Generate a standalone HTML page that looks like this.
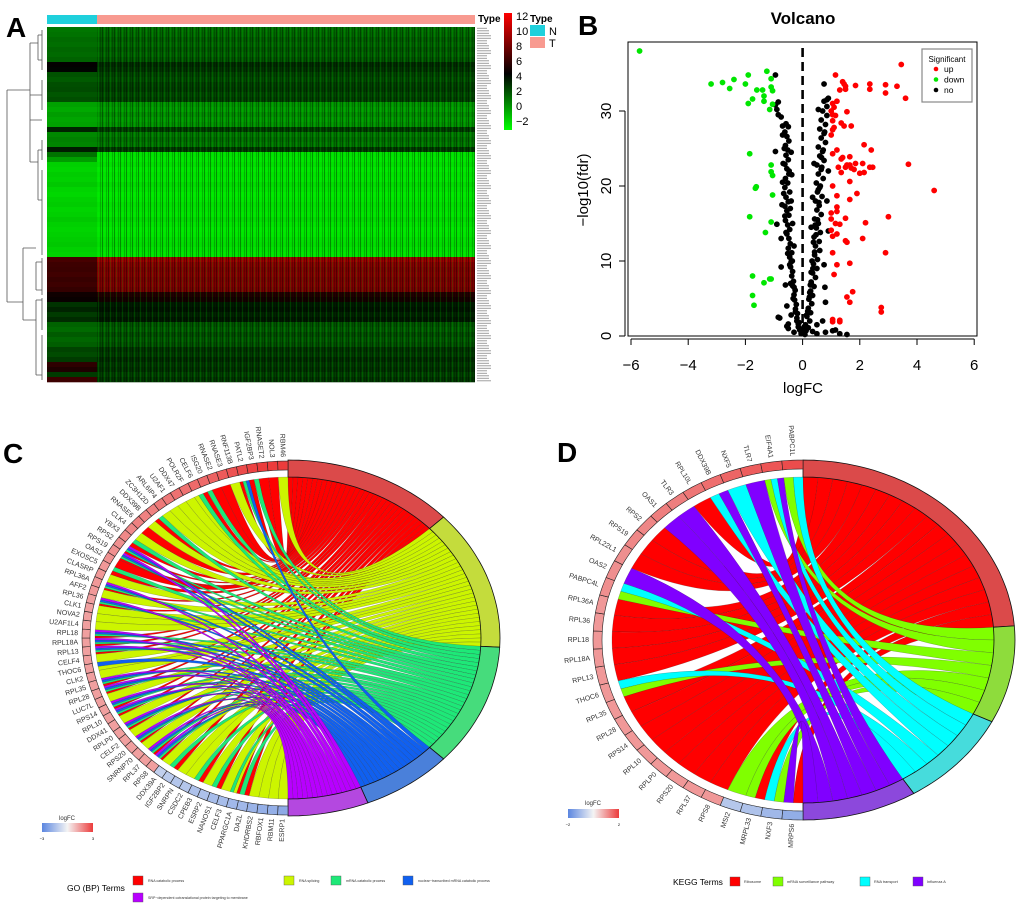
<!DOCTYPE html>
<html><head><meta charset="utf-8">
<style>
html,body{margin:0;padding:0;background:#fff;}
svg{display:block;font-family:"Liberation Sans",sans-serif;}
</style></head>
<body>
<svg id="fig" width="1020" height="907" viewBox="0 0 1020 907" xmlns="http://www.w3.org/2000/svg">
<defs>
<pattern id="stripes" width="6" height="5" patternUnits="userSpaceOnUse">
<rect x="0" y="0" width="1" height="5" fill="#000" opacity="0.35"/>
<rect x="2" y="0" width="1" height="5" fill="#0f0" opacity="0.15"/>
<rect x="4" y="0" width="1" height="5" fill="#000" opacity="0.2"/>
</pattern>
<linearGradient id="hmGrad" x1="0" y1="0" x2="0" y2="1">
<stop offset="0" stop-color="#ff0000"/><stop offset="0.52" stop-color="#000"/><stop offset="1" stop-color="#00ff00"/>
</linearGradient>
<linearGradient id="fcGrad" x1="0" y1="0" x2="1" y2="0">
<stop offset="0" stop-color="#5b86e0"/><stop offset="0.5" stop-color="#f4f4f4"/><stop offset="1" stop-color="#ec3c3c"/>
</linearGradient>
</defs>
<text x="6" y="37" font-size="28" font-weight="bold">A</text>
<text x="578" y="35" font-size="28" font-weight="bold">B</text>
<text x="3" y="463" font-size="28" font-weight="bold">C</text>
<text x="557" y="462" font-size="28" font-weight="bold">D</text>
<g id="panelA"></g>
<g id="panelB"></g>
<g id="panelC"></g>
<g id="panelD"></g>
</svg>
<script>
// ---------- Heatmap data ----------
const heatRowsT = [1.8,1.9,2.2,2.0,2.3,2.1,2.4,3.4,3.2,2.8,2.6,2.9,3.0,2.7,2.9,0.8,0.6,1.0,0.7,0.9,3.0,1.5,1.8,1.6,3.1,
 -1.2,-1.3,-1.1,-1.4,-1.2,-1.3,-1.0,-1.2,-1.4,-1.3,-1.1,-1.2,-1.3,-1.0,-1.2,-1.4,-1.3,-1.1,-1.0,-1.2,-1.3,
 9.5,8.8,8.5,8.7,8.4,8.6,8.3,5.6,5.2,3.8,4.0,3.6,3.9,2.4,2.2,2.6,2.3,2.5,3.2,3.0,3.4,3.1,3.3,2.9,3.2];
const heatRowsN = [1.5,1.6,1.8,1.7,1.9,1.8,2.0,4.6,4.4,2.4,2.2,2.5,2.6,2.3,2.5,0.4,0.2,0.5,0.3,0.4,3.6,1.0,1.2,1.1,3.8,
 1.6,0.5,-0.8,-0.9,-0.7,-0.8,-0.6,-0.9,-1.0,-0.8,-0.7,-0.9,-0.8,-0.6,-0.8,-0.9,-0.8,-0.7,-0.6,-0.8,-0.9,
 6.8,6.5,6.4,6.6,6.3,6.5,6.2,5.0,4.8,3.2,3.6,3.0,3.4,2.0,1.8,2.2,1.9,2.1,2.8,2.6,3.0,6.0,5.5,3.0,6.5];
const colorbarTicks = [12,10,8,6,4,2,0,-2];
// ---------- Volcano data ----------
const upX = [3.45,1.15,1.4,1.45,1.5,1.85,2.35,2.9,3.3,1.3,1.5,2.35,2.9,3.6,1.2,1.05,1.1,1.0,1.05,1.15,1.55,1.05,1.35,1.45,1.7,1.05,1.1,1.0,2.15,2.4,1.2,1.05,1.4,1.65,1.35,1.55,1.65,1.85,2.1,1.5,1.7,1.8,2.35,2.45,1.25,1.35,2.0,2.15,3.7,1.65,1.05,4.6,1.9,1.2,1.65,1.2,1.0,1.2,3.0,1.0,1.5,2.2,1.15,1.3,1.0,1.2,1.05,1.5,1.55,2.1,2.9,1.05,1.2,1.65,1.1,1.75,1.55,1.65,2.75,2.75,1.05,1.05,1.3,1.3];
const upY = [36.2,34.8,33.9,33.6,33.3,33.4,33.6,33.5,33.3,32.8,32.9,32.9,32.4,31.7,31.3,31.0,30.5,30.0,29.5,29.4,29.9,28.7,28.4,28.0,28.0,27.5,27.8,26.8,25.5,24.8,24.8,24.3,23.8,23.9,23.6,22.8,22.8,23.0,23.0,22.5,22.4,22.2,22.5,22.5,22.5,21.8,21.7,21.8,22.9,20.6,20.0,19.4,19.0,18.7,18.2,17.2,16.4,16.6,15.9,15.6,15.7,15.1,15.0,14.9,14.1,13.6,13.3,12.7,12.5,13.0,11.1,11.1,9.5,9.7,8.2,5.9,5.2,4.5,3.8,3.2,2.2,1.9,2.1,1.9];
const downX = [-5.7,-3.2,-2.8,-2.55,-2.4,-2.0,-1.9,-1.75,-1.9,-1.6,-1.4,-1.35,-1.35,-1.25,-1.1,-1.1,-1.05,-1.05,-1.15,-1.85,-1.1,-1.1,-1.05,-1.65,-1.62,-1.05,-1.85,-1.1,-1.3,-1.75,-1.15,-1.1,-1.35,-1.75,-1.7];
const downY = [38.0,33.6,33.8,33.0,34.2,33.6,34.8,31.6,31.0,32.8,32.8,32.0,31.3,35.3,34.3,33.2,32.7,30.9,30.2,24.3,22.8,21.9,21.4,19.7,19.9,18.8,15.9,15.2,13.8,8.0,7.6,7.6,7.1,5.4,4.1];
const noX = [-0.95,0.75,0.85,-0.7,-0.95,-0.9,-0.75,-0.75,-0.8,-0.85,-0.5,-0.55,0.5,0.8,1.05,1.15,1.3,1.55,
 -0.05,-0.1,-0.15,-0.12,-0.2,-0.18,-0.25,-0.22,-0.28,-0.3,-0.26,-0.35,-0.32,-0.38,-0.35,-0.42,-0.4,-0.45,-0.38,-0.5,-0.43,-0.48,-0.55,-0.45,-0.52,-0.6,-0.48,-0.55,-0.62,-0.5,-0.58,-0.45,-0.62,-0.52,-0.6,-0.48,-0.55,-0.62,-0.5,-0.58,-0.52,-0.6,-0.48,-0.55,-0.62,-0.5,-0.58,-0.75,-0.85,-0.9,-0.95,-0.85,-0.7,-0.68,-0.7,-0.72,-0.4,-0.38,-0.4,-0.35,-0.3,-0.6,-0.55,-0.4,-0.5,-0.3,
 -0.2,-0.25,-0.33,-0.42,-0.45,-0.52,-0.58,-0.62,-0.66,-0.64,-0.47,-0.43,-0.36,-0.3,-0.08,-0.15,
 0.08,0.12,0.2,0.1,0.25,0.15,0.28,0.2,0.32,0.22,0.35,0.28,0.4,0.3,0.45,0.35,0.5,0.38,0.52,0.42,0.6,0.45,0.58,0.4,0.62,0.48,0.55,0.42,0.65,0.5,0.58,0.45,0.68,0.52,0.6,0.48,0.72,0.55,0.65,0.5,0.75,0.6,0.7,0.55,0.8,0.65,0.75,0.6,0.8,0.65,0.85,0.7,0.55,0.85,0.75,0.9,0.3,0.25,0.75,0.78,0.8,0.7,0.5,0.35,0.9,0.85,0.9,0.35,0.3,0.4,
 0.18,0.24,0.3,0.36,0.42,0.47,0.52,0.57,0.62,0.67,0.72,0.77,0.33,0.44,0.55,0.66,0.27,0.38,0.05,0.14];
const noY = [34.8,33.6,31.5,28.0,24.6,14.9,13.0,9.2,2.4,2.5,1.6,1.3,0.3,0.5,0.7,0.8,0.3,0.2,
 0.3,0.8,1.2,1.8,2.4,3.0,3.6,4.2,4.8,5.5,6.1,6.7,7.3,8.0,8.6,9.2,9.9,10.5,11.1,11.7,12.3,13.0,13.6,14.2,14.8,15.4,16.1,16.7,17.3,17.9,18.5,19.2,19.8,20.4,21.0,21.6,22.3,22.9,23.5,24.1,24.8,25.4,26.0,26.6,27.2,27.9,28.3,29.2,29.5,30.2,30.8,31.2,26.8,23.0,20.5,17.5,18.0,21.5,24.5,15.0,12.0,6.8,4.0,2.8,1.0,0.5,
 2.0,3.2,5.0,7.0,9.5,11.0,13.8,16.0,19.0,25.0,22.0,17.0,10.0,6.5,0.9,1.6,
 0.2,0.7,1.1,1.5,2.0,2.6,3.1,3.7,4.3,4.9,5.4,6.0,6.6,7.2,7.8,8.4,9.0,9.6,10.2,10.8,11.4,12.0,12.6,13.2,13.8,14.4,15.0,15.6,16.2,16.8,17.4,18.0,18.6,19.2,19.8,20.4,21.0,21.6,22.2,22.8,23.4,24.0,24.6,25.2,25.8,26.4,27.0,27.6,28.2,28.8,29.4,30.0,30.2,30.6,31.3,31.7,8.5,5.8,9.5,6.5,4.5,2.0,1.5,0.6,14.0,18.0,22.0,18.5,14.5,23.0,
 3.3,5.2,7.0,9.0,11.2,13.5,15.5,17.8,20.0,22.5,24.8,27.2,10.0,14.8,19.5,23.8,6.8,12.5,1.2,2.8];
const xTicks = [-6,-4,-2,0,2,4,6];
const yTicks = [0,10,20,30];
// ---------- GO chord data ----------
const goGenes = ["ESRP1","RBM11","RBFOX1","KHDRBS2","DAZL","PPARGC1A","CELF3","NANOS1","ESRP2","CPEB3","CSDC2","SNRPN","IGF2BP2","DDX39A","RPS8","RPL37","SNRNP70","RPS20","CELF2","RPLP0","DDX41","RPL10","RPS14","LUC7L","RPL28","RPL35","CLK2","THOC6","CELF4","RPL13","RPL18A","RPL18","U2AF1L4","NOVA2","CLK1","RPL36","AFF2","RPL36A","CLASRP","EXOSC5","OAS2","RPS19","RPS2","YBX3","CLK4","RNASE6","DDX39B","ZC3H12D","ARL6IP4","U2AF1","DDX47","POLR2F","CELF6","ISG20","RNASE2","RNASE3","RNF113B","PATL2","IGF2BP3","RNASET2","NOL3","RBM46"];
const goLinks = ["1","1","1","1","02","012","1","02","1","02","1","1","02","1","0234","0234","1","0234","1","0234","1","0234","0234","1","0234","0234","1","13","1","0234","0234","0234","1","1","1","0234","1","0234","1","02","0","0234","0234","02","1","0","1","02","1","1","1","1","12","02","0","0","1","023","02","0","0","1"];
const goLogFC = [-1.6,-1.5,-1.5,-1.4,-1.3,-1.3,-1.2,-1.2,-1.1,-1.1,-1.0,-1.0,-0.9,-0.8,1.1,1.1,1.1,1.1,1.1,1.1,1.1,1.1,1.1,1.1,1.1,1.1,1.1,1.1,1.1,1.1,1.1,1.1,1.1,1.1,1.1,1.1,1.2,1.2,1.2,1.2,1.3,1.3,1.3,1.4,1.4,1.5,1.5,1.5,1.6,1.6,1.7,1.7,1.8,1.8,1.9,2.0,2.1,2.2,2.3,2.4,2.6,2.8];
const goTerms = ["RNA catabolic process","RNA splicing","mRNA catabolic process","nuclear\u2212transcribed mRNA catabolic process","SRP\u2212dependent cotranslational protein targeting to membrane"];
// ---------- KEGG chord data ----------
const keggGenes = ["MRPS6","NXF3","MRPL33","MSI2","RPS8","RPL37","RPS20","RPLP0","RPL10","RPS14","RPL28","RPL35","THOC6","RPL13","RPL18A","RPL18","RPL36","RPL36A","PABPC4L","OAS2","RPL22L1","RPS19","RPS2","OAS1","TLR3","RPL10L","DDX39B","NXF5","TLR7","EIF4A1","PABPC1L"];
const keggLinks = ["03","12","01","1","0","0","0","0","0","0","0","0","12","0","0","0","0","0","12","3","0","0","0","3","3","0","23","2","3","123","12"];
const keggLogFC = [-1.4,-1.2,-1.0,-0.9,1.1,1.1,1.1,1.1,1.1,1.1,1.1,1.1,1.1,1.1,1.1,1.1,1.1,1.1,1.2,1.2,1.2,1.3,1.3,1.4,1.4,1.5,1.6,1.7,1.8,1.9,2.0];
const keggTerms = ["Ribosome","mRNA surveillance pathway","RNA transport","Influenza A"];

const NS = "http://www.w3.org/2000/svg";
function mk(tag, attrs, parent){const e=document.createElementNS(NS,tag);for(const k in attrs)e.setAttribute(k,attrs[k]);if(parent)parent.appendChild(e);return e;}

// ================= Panel A =================
(function(){
const g=document.getElementById('panelA');
const hx0=47, hx1=475, nx1=97, hy0=27, rowH=5;
const ann1=mk('rect',{x:hx0,y:15,width:nx1-hx0,height:9,fill:'#1fd0dc'},g);


const ann2=mk('rect',{x:nx1,y:15,width:hx1-nx1,height:9,fill:'#f89a90'},g);


function hc(v){let r=0,gr=0;const mid=4.5;if(v<mid){let t=Math.max(0,(v+2)/(mid+2));gr=Math.round(255*(1-t));}else{let t=Math.min(1,(v-mid)/(12-mid));r=Math.round(230*t);}return `rgb(${r},${gr},0)`;}
heatRowsT.forEach((v,i)=>{
 const y=hy0+i*rowH;
 const c1=mk('rect',{x:hx0,y:y,width:nx1-hx0,height:rowH+0.3,fill:hc(heatRowsN[i])},g);
 
 
 const c2=mk('rect',{x:nx1,y:y,width:hx1-nx1,height:rowH+0.3,fill:hc(v)},g);
 
 
 for(let k=0;k<2;k++){const l=mk('rect',{x:477,y:y+0.8+k*2.4,width:10+((i+k)%3)*2,height:1.1,fill:'#aaa'},g);
 
 }
});
const tex=mk('rect',{x:nx1,y:hy0,width:hx1-nx1,height:heatRowsT.length*rowH,fill:'url(#stripes)'},g);


// dendrogram
const dp="M7,90 V302 M7,90 H30 M7,302 H23 M30,43 V162 M30,43 H38 M30,162 H38 M38,35 V60 M38,150 V200 M23,248 V320 M23,248 H36 M23,320 H36 M36,262 V290 M36,300 V375 "+
"M38,35 H42 M38,60 H42 M38,150 H42 M38,200 H42 M36,262 H42 M36,290 H42 M36,300 H42 M36,375 H42 M42,30 V70 M42,80 V110 M42,140 V160 M42,170 V255 M42,258 V295 M42,298 V330 M42,335 V380 M30,95 H42 M30,120 H42";
const dd=mk('path',{d:dp,fill:'none',stroke:'#555','stroke-width':0.8},g);


const tl=mk('text',{x:478,y:22,'font-size':10,'font-weight':'bold'},g);tl.textContent='Type';


const cb=mk('rect',{x:504,y:13,width:8,height:117,fill:'url(#hmGrad)'},g);


colorbarTicks.forEach((t,i)=>{const tx=mk('text',{x:516,y:20+i*15,'font-size':11},g);tx.textContent=String(t).replace('-','\u2212');
 
 });
const lt=mk('text',{x:530,y:22,'font-size':10,'font-weight':'bold'},g);lt.textContent='Type';


const nb=mk('rect',{x:530,y:25,width:15,height:11,fill:'#1fd0dc'},g);


const tb=mk('rect',{x:530,y:37,width:15,height:11,fill:'#f89a90'},g);


const nt=mk('text',{x:549,y:35,'font-size':11},g);nt.textContent='N';


const tt=mk('text',{x:549,y:47,'font-size':11},g);tt.textContent='T';


})();

// ================= Panel B =================
(function(){
const g=document.getElementById('panelB');
const X=v=>631+(v+6)*28.6, Y=v=>336-v*7.5;
const box=mk('rect',{x:628,y:42,width:349,height:294,fill:'none',stroke:'#000','stroke-width':1},g);


const ti=mk('text',{x:803,y:24,'font-size':17,'font-weight':'bold','text-anchor':'middle'},g);ti.textContent='Volcano';


const xa=mk('line',{x1:X(-6),x2:X(6),y1:339,y2:339,stroke:'#000'},g);


xTicks.forEach(t=>{const l=mk('line',{x1:X(t),x2:X(t),y1:339,y2:345,stroke:'#000'},g);
 
 
 const tx=mk('text',{x:X(t),y:370,'font-size':15,'text-anchor':'middle'},g);tx.textContent=String(t).replace('-','\u2212');
 
 });
const ya=mk('line',{x1:625,x2:625,y1:Y(0),y2:Y(30),stroke:'#000'},g);


yTicks.forEach(t=>{const l=mk('line',{x1:619,x2:625,y1:Y(t),y2:Y(t),stroke:'#000'},g);
 
 
 const tx=mk('text',{x:611,y:Y(t),'font-size':15,'text-anchor':'middle',transform:`rotate(-90 611 ${Y(t)})`},g);tx.textContent=t;
 
 });
const xl=mk('text',{x:803,y:393,'font-size':15,'text-anchor':'middle'},g);xl.textContent='logFC';


const yl=mk('text',{x:588,y:190,'font-size':15,'text-anchor':'middle',transform:'rotate(-90 588 190)'},g);yl.textContent='\u2212log10(fdr)';


function pts(xs,ys,col,name){xs.forEach((x,i)=>{const c=mk('circle',{cx:X(x),cy:Y(ys[i]),r:2.9,fill:col},g);
 
 });}
pts(noX,noY,'#000','point-no');
pts(upX,upY,'#ff0000','point-up');
pts(downX,downY,'#00e600','point-down');
const dl=mk('line',{x1:X(0),x2:X(0),y1:48,y2:336,stroke:'#000','stroke-width':2.6,'stroke-dasharray':'9,5'},g);


const lb=mk('rect',{x:922,y:49,width:50,height:53,fill:'#fff',stroke:'#888','stroke-width':1.2},g);


const ls=mk('text',{x:947,y:62,'font-size':8,'text-anchor':'middle'},g);ls.textContent='Significant';


[['up','#ff0000'],['down','#00e600'],['no','#000']].forEach((e,i)=>{
 const c=mk('circle',{cx:936,cy:69+i*10.5,r:2.3,fill:e[1]},g);
 
 
 const t=mk('text',{x:944,y:72+i*10.5,'font-size':8.5},g);t.textContent=e[0];
 
 });
})();

// ================= Chord diagrams =================
function fcColor(v,max){const t=Math.max(-1,Math.min(1,v/max));let r,gg,b;
 if(t<0){const s=-t;r=244+(91-244)*s;gg=244+(134-244)*s;b=244+(224-244)*s;}else{r=244+(236-244)*t;gg=244+(60-244)*t;b=244+(60-244)*t;}
 return `rgb(${r|0},${gg|0},${b|0})`;}
function chord(g,cfg){
 const {cx,cy,genes,links,lfc,termFill,linkFill,fcMax}=cfg;
 const rad=d=>d*Math.PI/180;
 const P=(a,rx,ry)=>[cx+rx*Math.cos(rad(a)),cy+ry*Math.sin(rad(a))];
 const nT=termFill.length, counts=new Array(nT).fill(0);
 links.forEach(s=>{for(const ch of s)counts[+ch]++;});
 const total=counts.reduce((a,b)=>a+b,0);
 const tStart=[];let acc=-90;counts.forEach(c=>{tStart.push(acc);acc+=c/total*180;});
 const N=genes.length, gw=180/N;
 // term slot assignment: gene index descending
 const used=new Array(nT).fill(0);
 const ribbons=[];
 for(let i=N-1;i>=0;i--){const s=links[i];const m=s.length;
  for(let j=0;j<m;j++){const k=+s[j];
   const a1=90+i*gw+(gw*j/m), a2=90+i*gw+gw*(j+1)/m;
   const b1=tStart[k]+used[k]*180/total, b2=b1+180/total; used[k]++;
   ribbons.push({a1,a2,b1,b2,k});}}
 const crx=cfg.crx, cry=cfg.cry;
 function arcPts(a,b){let s='';const n=Math.max(2,Math.ceil(Math.abs(b-a)/2));for(let q=1;q<=n;q++){const p=P(a+(b-a)*q/n,crx,cry);s+=` L${p[0].toFixed(1)},${p[1].toFixed(1)}`;}return s;}
 // draw ribbons in order of term (red first)
 ribbons.sort((p,q)=>p.k-q.k);
 ribbons.forEach(r=>{
  const pa1=P(r.a1,crx,cry), pb1=P(r.b1,crx,cry);
  let d=`M${pa1[0].toFixed(1)},${pa1[1].toFixed(1)}`+arcPts(r.a1,r.a2)+` Q${cx},${cy} ${pb1[0].toFixed(1)},${pb1[1].toFixed(1)}`+arcPts(r.b1,r.b2)+` Q${cx},${cy} ${pa1[0].toFixed(1)},${pa1[1].toFixed(1)} Z`;
  const p=mk('path',{d:d,fill:linkFill[r.k],stroke:'#222','stroke-width':0.25,'stroke-opacity':0.7},g);
  
  });
 // term ring
 function wedge(a,b,r1x,r1y,r2x,r2y){let d='';const n=Math.max(2,Math.ceil((b-a)/1.5));
  for(let q=0;q<=n;q++){const p=P(a+(b-a)*q/n,r2x,r2y);d+=(q?' L':'M')+p[0].toFixed(1)+','+p[1].toFixed(1);}
  for(let q=n;q>=0;q--){const p=P(a+(b-a)*q/n,r1x,r1y);d+=' L'+p[0].toFixed(1)+','+p[1].toFixed(1);}return d+' Z';}
 counts.forEach((c,k)=>{const w=mk('path',{d:wedge(tStart[k],tStart[k]+c/total*180,cfg.t1x,cfg.t1y,cfg.t2x,cfg.t2y),fill:termFill[k],stroke:'#111','stroke-width':0.8},g);
  
  });
 genes.forEach((name,i)=>{const a=90+i*gw,b=a+gw;
  const w=mk('path',{d:wedge(a,b,cfg.g1x,cfg.g1y,cfg.g2x,cfg.g2y),fill:fcColor(lfc[i],fcMax),stroke:'#222','stroke-width':0.6},g);
  
  
  const mid=a+gw/2, p=P(mid,cfg.g2x+4,cfg.g2y+4);
  const t=mk('text',{x:p[0].toFixed(1),y:p[1].toFixed(1),'font-size':cfg.fs,'text-anchor':'end','dominant-baseline':'middle',fill:'#333',transform:`rotate(${(mid-180).toFixed(1)} ${p[0].toFixed(1)} ${p[1].toFixed(1)})`},g);
  t.textContent=name;
  
  });
}
(function(){
const g=document.getElementById('panelC');
chord(g,{cx:288,cy:638,genes:goGenes,links:goLinks,lfc:goLogFC,fcMax:2.4,
 termFill:['#db4a4a','#c4dc3c','#46dc7c','#4a80da','#b448e0'],
 linkFill:['#ff0000','#ccf500','#1ee878','#1060f0','#b800ff'],
 crx:193,cry:161,t1x:193,t1y:161,t2x:212,t2y:178,g1x:198,g1y:168,g2x:206,g2y:177,fs:7});
const cb=mk('rect',{x:42,y:823,width:51,height:9,fill:'url(#fcGrad)'},g);


const l=mk('text',{x:67,y:820,'font-size':6,'text-anchor':'middle',fill:'#333'},g);l.textContent='logFC';


const l1=mk('text',{x:42,y:840,'font-size':4,'text-anchor':'middle'},g);l1.textContent='\u22123';


const l2=mk('text',{x:93,y:840,'font-size':4,'text-anchor':'middle'},g);l2.textContent='3';


const lt=mk('text',{x:67,y:891,'font-size':8.5},g);lt.textContent='GO (BP) Terms';


const pos=[[133,876],[284,876],[331,876],[403,876],[133,893]];
const cols=['#ff0000','#ccf500','#1ee878','#1060f0','#b800ff'];
goTerms.forEach((t,i)=>{const r=mk('rect',{x:pos[i][0],y:pos[i][1],width:10,height:9,fill:cols[i],stroke:'#555','stroke-width':0.4},g);
 
 
 const tx=mk('text',{x:pos[i][0]+15,y:pos[i][1]+6,'font-size':3.6,fill:'#333'},g);tx.textContent=t;
 
 });
})();
(function(){
const g=document.getElementById('panelD');
chord(g,{cx:803,cy:640,genes:keggGenes,links:keggLinks,lfc:keggLogFC,fcMax:2.2,
 termFill:['#db4a4a','#8edc3c','#46dcdc','#8c48dc'],
 linkFill:['#ff0000','#80ff00','#00ffff','#8000ff'],
 crx:191,cry:163,t1x:191,t1y:163,t2x:212,t2y:180,g1x:201,g1y:171,g2x:210,g2y:180,fs:7});
const cb=mk('rect',{x:568,y:809,width:51,height:9,fill:'url(#fcGrad)'},g);


const l=mk('text',{x:593,y:805,'font-size':6,'text-anchor':'middle',fill:'#333'},g);l.textContent='logFC';


const l1=mk('text',{x:568,y:826,'font-size':4,'text-anchor':'middle'},g);l1.textContent='\u22122';


const l2=mk('text',{x:619,y:826,'font-size':4,'text-anchor':'middle'},g);l2.textContent='2';


const lt=mk('text',{x:673,y:885,'font-size':8.5},g);lt.textContent='KEGG Terms';


const px=[730,773,860,913];
const cols=['#ff0000','#80ff00','#00ffff','#8000ff'];
keggTerms.forEach((t,i)=>{const r=mk('rect',{x:px[i],y:877,width:10,height:9,fill:cols[i],stroke:'#555','stroke-width':0.4},g);
 
 
 const tx=mk('text',{x:px[i]+14,y:883,'font-size':3.8,fill:'#333'},g);tx.textContent=t;
 
 });
})();
</script>
</body></html>
